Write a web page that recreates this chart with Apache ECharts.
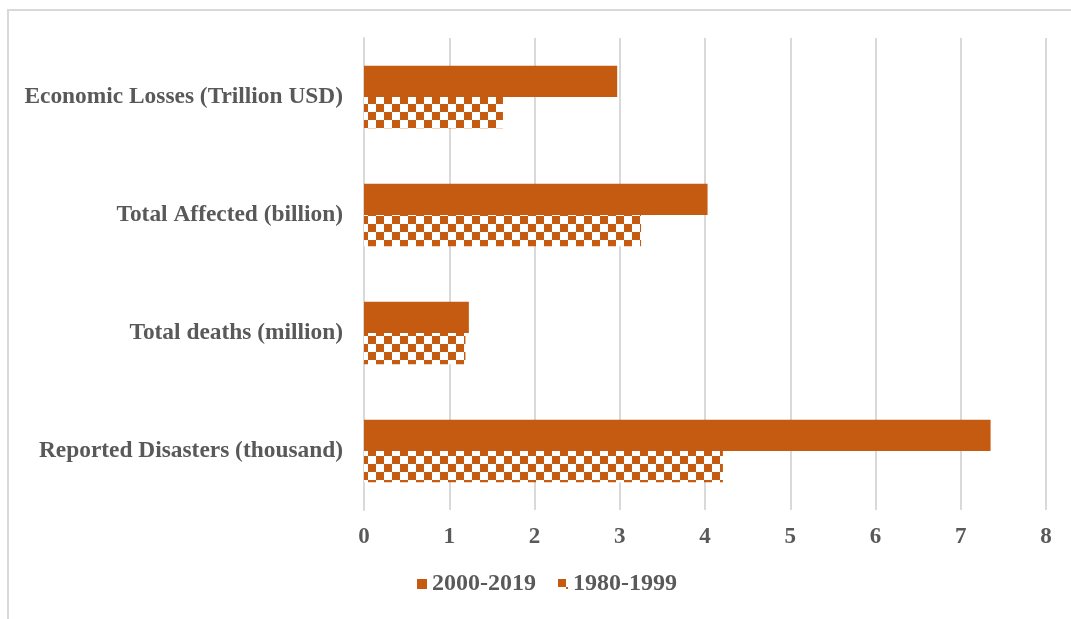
<!DOCTYPE html>
<html>
<head>
<meta charset="utf-8">
<script src="https://cdn.jsdelivr.net/npm/echarts@6/dist/echarts.min.js"></script>
<style>
  html, body { margin: 0; padding: 0; background: #fff; }
  #frame {
    position: absolute;
    left: 7px; top: 9px;
    width: 1064px; height: 610px;
    border-left: 2px solid #d9d9d9;
    border-top: 2px solid #d9d9d9;
    box-sizing: border-box;
  }
  #chart { position: absolute; left: 0; top: 0; width: 1071px; height: 619px; }
</style>
</head>
<body>
<div id="frame"></div>
<div id="chart"></div>
<script>
// bottom to top on the y axis
const categories = [
  "Reported Disasters (thousand)",
  "Total deaths (million)",
  "Total Affected (billion)",
  "Economic Losses (Trillion USD)"
];
const recent = [7.35, 1.23, 4.03, 2.97];   // 2000-2019
const earlier = [4.21, 1.19, 3.25, 1.63];  // 1980-1999
const xTicks = [0, 1, 2, 3, 4, 5, 6, 7, 8];

const orange = "#C55A11";

// checker pattern for the 1980-1999 bars
function checker() {
  const c = document.createElement("canvas");
  c.width = 16;
  c.height = 16;
  const ctx = c.getContext("2d");
  ctx.fillStyle = "#fff";
  ctx.fillRect(0, 0, 16, 16);
  ctx.fillStyle = orange;
  ctx.fillRect(0, 0, 8, 8);
  ctx.fillRect(8, 8, 8, 8);
  return c;
}

const chart = echarts.init(document.getElementById("chart"));
const font = "'Liberation Serif', 'Times New Roman', serif";

chart.setOption({
  animation: false,
  grid: { left: 364, right: 25, top: 38, bottom: 109 },
  legend: {
    data: ["2000-2019", "1980-1999"],
    bottom: 18,
    left: 412,
    icon: "rect",
    itemWidth: 10,
    itemHeight: 10,
    itemGap: 22,
    textStyle: { fontFamily: font, fontWeight: "bold", fontSize: 24, color: "#595959" }
  },
  xAxis: {
    type: "value",
    min: xTicks[0],
    max: xTicks[xTicks.length - 1],
    interval: 1,
    axisLine: { show: false },
    axisTick: { show: false },
    splitLine: { lineStyle: { color: "#d9d9d9", width: 2 } },
    axisLabel: { margin: 16, fontFamily: font, fontWeight: "bold", fontSize: 23, color: "#595959" }
  },
  yAxis: {
    type: "category",
    data: categories,
    axisLine: { lineStyle: { color: "#d9d9d9", width: 2 } },
    axisTick: { show: false },
    axisLabel: { margin: 21, fontFamily: font, fontWeight: "bold", fontSize: 23.4, color: "#595959" }
  },
  series: [
    {
      name: "2000-2019",
      type: "bar",
      data: recent,
      barGap: "0%",
      barCategoryGap: "47%",
      itemStyle: { color: orange }
    },
    {
      name: "1980-1999",
      type: "bar",
      data: earlier,
      barGap: "0%",
      barCategoryGap: "47%",
      itemStyle: { color: { image: checker(), repeat: "repeat" } }
    }
  ]
});
</script>
</body>
</html>
